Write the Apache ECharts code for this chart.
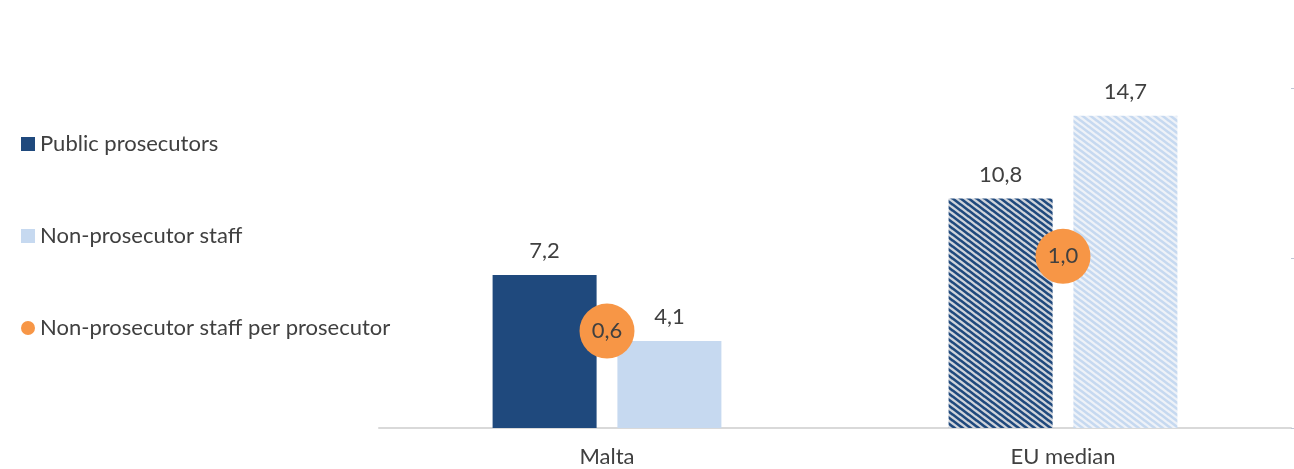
<!DOCTYPE html>
<html>
<head>
<meta charset="utf-8">
<script src="https://cdn.jsdelivr.net/npm/echarts@6/dist/echarts.min.js"></script>
<style>
  html, body { margin: 0; padding: 0; background: #fff; }
  #chart { width: 1294px; height: 469px; }
</style>
</head>
<body>
<div id="chart"></div>
<script>
// data
var categories = ['Malta', 'EU median'];
var prosecutors = [7.2, 10.8];
var nonProsecutorStaff = [4.1, 14.7];
var staffPerProsecutor = [0.57, 1.01];

var FONT = 'Lato';
var TXT = '#404040';

// striped fill for the EU median bars
function stripes(fg, bg, w) {
	var c = document.createElement('canvas');
	c.width = 8;
	c.height = 6;
	var ctx = c.getContext('2d');
	ctx.fillStyle = bg;
	ctx.fillRect(0, 0, 8, 6);
	ctx.strokeStyle = fg;
	ctx.lineWidth = w;
	// lines with slope 6/8, repeated so the tile joins up
	for (var k = -1; k <= 1; k++) {
		ctx.beginPath();
		ctx.moveTo(-8 + k * 8, -6);
		ctx.lineTo(16 + k * 8, 12);
		ctx.stroke();
	}
	return { image: c, repeat: 'repeat' };
}

function comma(v) {
	return v.toFixed(1).replace('.', ',');
}

var dark = '#1F497D';
var light = '#C6D9F0';
var orange = '#F79646';

var myChart = echarts.init(document.getElementById('chart'));
var option = {
	animation: false,
	textStyle: { fontFamily: FONT },
	legend: {
		orient: 'vertical',
		left: 16,
		top: 128,
		itemWidth: 14,
		itemHeight: 14,
		itemGap: 70,
		textStyle: { color: TXT, fontSize: 22, fontFamily: FONT },
		data: [
			{ name: 'Public prosecutors', icon: 'rect' },
			{ name: 'Non-prosecutor staff', icon: 'rect' },
			{ name: 'Non-prosecutor staff per prosecutor', icon: 'circle' }
		]
	},
	grid: { left: 379, right: 3, top: 88, bottom: 41 },
	xAxis: {
		type: 'category',
		data: categories,
		axisTick: { show: false },
		axisLine: { lineStyle: { color: '#D9D9D9', width: 2 } },
		axisLabel: { color: TXT, fontSize: 22, margin: 18, fontFamily: FONT }
	},
	yAxis: [{
		type: 'value',
		min: 0,
		max: 16,
		show: false,
		splitLine: { show: false }
	}, {
		type: 'value',
		min: 0,
		max: 2,
		interval: 1,
		position: 'right',
		axisLine: { show: false },
		axisLabel: { show: false },
		axisTick: { show: true, inside: false, length: 3, lineStyle: { color: '#BFC6D6' } },
		splitLine: { show: false }
	}],
	series: [{
		name: 'Public prosecutors',
		type: 'bar',
		barWidth: 104,
		barGap: '20%',
		itemStyle: { color: dark },
		label: {
			show: true, position: 'top', distance: 13,
			color: TXT, fontSize: 22, fontFamily: FONT,
			formatter: function (p) { return comma(p.value); }
		},
		data: [prosecutors[0], { value: prosecutors[1], itemStyle: { color: stripes(dark, '#D0D4DB', 2.6) } }]
	}, {
		name: 'Non-prosecutor staff',
		type: 'bar',
		barWidth: 104,
		itemStyle: { color: light },
		label: {
			show: true, position: 'top', distance: 13,
			color: TXT, fontSize: 22, fontFamily: FONT,
			formatter: function (p) { return comma(p.value); }
		},
		data: [nonProsecutorStaff[0], { value: nonProsecutorStaff[1], itemStyle: { color: stripes(light, '#EEF2F8', 2.6) } }]
	}, {
		name: 'Non-prosecutor staff per prosecutor',
		type: 'scatter',
		yAxisIndex: 1,
		symbolSize: 55,
		itemStyle: { color: orange, opacity: 1 },
		z: 5,
		label: {
			show: true, position: 'inside',
			color: TXT, fontSize: 22, fontFamily: FONT,
			formatter: function (p) { return comma(p.value); }
		},
		data: staffPerProsecutor
	}]
};
myChart.setOption(option);
</script>
</body>
</html>
